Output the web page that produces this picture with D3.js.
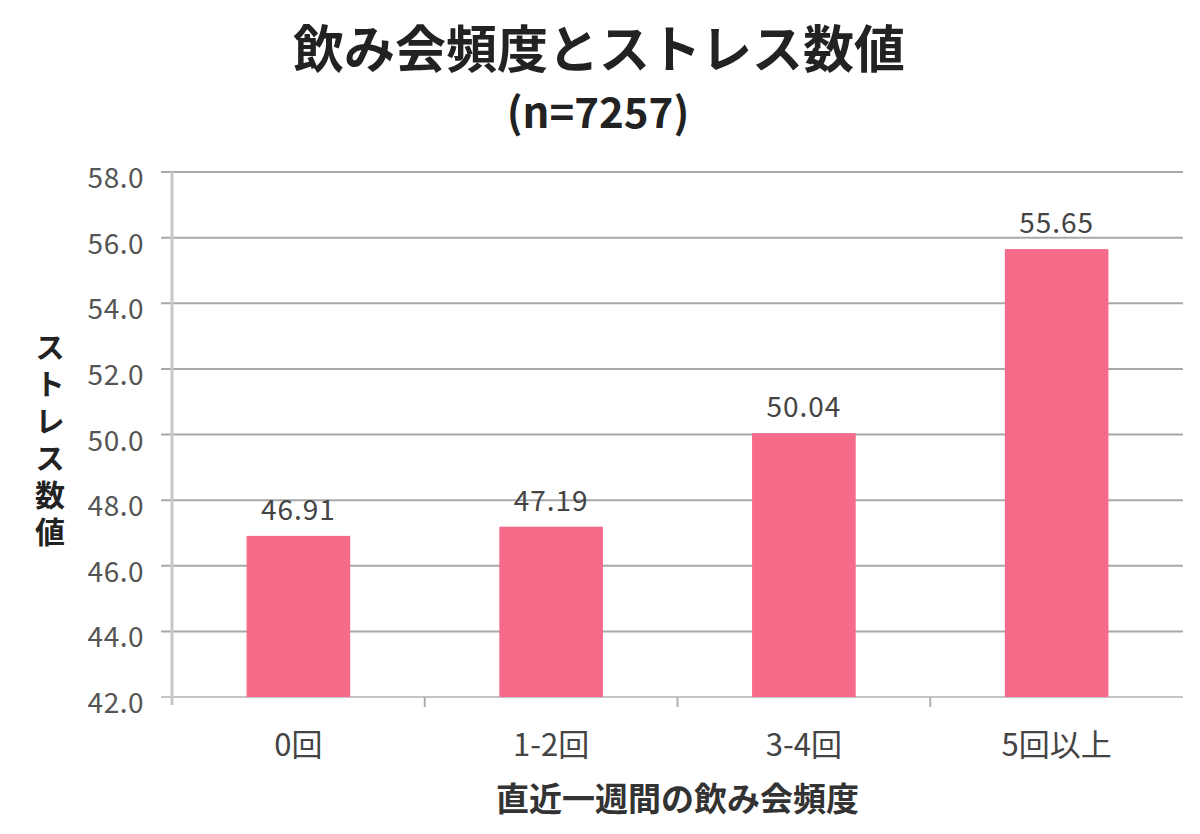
<!DOCTYPE html>
<html><head><meta charset="utf-8">
<script src="https://cdn.jsdelivr.net/npm/d3@7"></script>
<style>
html,body{margin:0;padding:0;background:#fff;}
svg{display:block;}
text{font-family:"Noto Sans CJK JP","Noto Sans",sans-serif;}
</style></head><body>
<svg id="chart" width="1200" height="834"></svg>
<script>
const categories = ["0回", "1-2回", "3-4回", "5回以上"];
const values = [46.91, 47.19, 50.04, 55.65];
const yTicks = [42, 44, 46, 48, 50, 52, 54, 56, 58];
const titleText = "飲み会頻度とストレス数値";
const subtitleText = "(n=7257)";
const xTitle = "直近一週間の飲み会頻度";
const yTitle = "ストレス数値";

(function () {
const svg = d3.select("#chart");
const pLeft = 172, pRight = 1183, pTop = 172, pBottom = 697;

const x = d3.scaleBand().domain(categories).range([pLeft, pRight]).paddingInner(0.59).paddingOuter(0.295);
const xb = d3.scaleBand().domain(categories).range([pLeft, pRight]).padding(0);
const y = d3.scaleLinear().domain([42, 58]).range([pBottom, pTop]);

// gridlines
svg.append("g").selectAll("line").data(yTicks).join("line")
  .attr("x1", pLeft - 11).attr("x2", pRight)
  .attr("y1", d => y(d)).attr("y2", d => y(d))
  .attr("stroke", d => d === 42 ? "#c4c4c4" : "#a8a8a8").attr("stroke-width", 2);

// y axis line
svg.append("line").attr("x1", pLeft).attr("x2", pLeft).attr("y1", pTop).attr("y2", pBottom + 8)
  .attr("stroke", "#c8c8c8").attr("stroke-width", 3);

// x ticks between categories
svg.append("g").selectAll("line").data(categories.slice(1)).join("line")
  .attr("x1", d => xb(d)).attr("x2", d => xb(d))
  .attr("y1", pBottom).attr("y2", pBottom + 10)
  .attr("stroke", "#b0b0b0").attr("stroke-width", 2);

// y tick labels
svg.append("g").selectAll("text").data(yTicks).join("text")
  .attr("x", 144).attr("y", d => y(d) + 16)
  .attr("text-anchor", "end").attr("font-size", 28).attr("fill", "#555")
  .attr("letter-spacing", "0.5px")
  .text(d => d.toFixed(1));

// bars
svg.append("g").selectAll("rect").data(values).join("rect")
  .attr("x", (d, i) => x(categories[i])).attr("width", x.bandwidth())
  .attr("y", d => y(d)).attr("height", d => pBottom - y(d))
  .attr("fill", "#f76b8a");

// value labels
svg.append("g").selectAll("text").data(values).join("text")
  .attr("x", (d, i) => x(categories[i]) + x.bandwidth() / 2)
  .attr("y", d => y(d) - 16)
  .attr("text-anchor", "middle").attr("font-size", 28).attr("fill", "#444")
  .attr("letter-spacing", "1px")
  .text(d => d.toFixed(2));

// x labels
svg.append("g").selectAll("text").data(categories).join("text")
  .attr("x", d => xb(d) + xb.bandwidth() / 2).attr("y", 756)
  .attr("text-anchor", "middle").attr("font-size", 31).attr("fill", "#444")
  .text(d => d);

// x title
svg.append("text").attr("x", (pLeft + pRight) / 2).attr("y", 811)
  .attr("text-anchor", "middle").attr("font-size", 33).attr("font-weight", "bold").attr("fill", "#333")
  .text(xTitle);

// y title, vertical upright
svg.append("text")
  .attr("x", 50).attr("y", 332)
  .style("writing-mode", "vertical-rl").style("text-orientation", "upright")
  .attr("letter-spacing", "7px")
  .attr("font-size", 30).attr("font-weight", "bold").attr("fill", "#222")
  .text(yTitle);

// title
svg.append("text").attr("x", 599).attr("y", 68)
  .attr("text-anchor", "middle").attr("font-size", 51).attr("font-weight", "bold").attr("fill", "#222")
  .text(titleText);
svg.append("text").attr("x", 598).attr("y", 128)
  .attr("text-anchor", "middle").attr("font-size", 42).attr("font-weight", "bold").attr("fill", "#222")
  .text(subtitleText);
})();
</script>
</body></html>
